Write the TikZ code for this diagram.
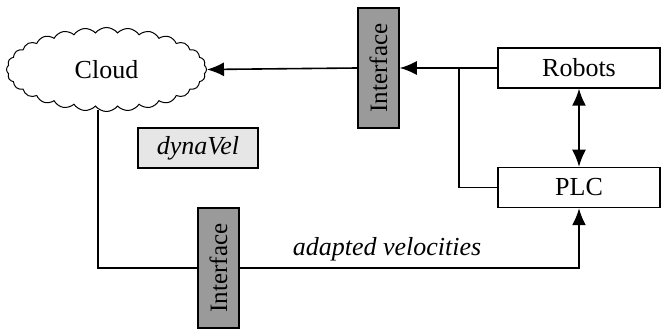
\documentclass[tikz,border=0pt]{standalone}
\usepackage{fontspec}
\setmainfont{LiberationSerif}[
  Extension=.ttf,
  UprightFont=*-Regular,
  ItalicFont=*-Italic,
  BoldFont=*-Bold]
\usetikzlibrary{shapes.symbols,arrows.meta}

\definecolor{ifgray}{HTML}{9A9A9A}
\definecolor{modgray}{HTML}{E6E6E6}

\tikzset{
  txt/.style={font=\fontsize{26}{30}\selectfont},
  itxt/.style={font=\fontsize{26}{30}\selectfont\itshape},
  block/.style={draw, line width=1.5pt, fill=white, txt, minimum width=162pt, minimum height=40pt, inner sep=0pt},
  iface/.style={draw, line width=1.5pt, fill=ifgray, minimum width=41pt, minimum height=120pt, inner sep=0pt},
  wire/.style={line width=1.6pt},
  tip/.style={-{Latex[length=17pt,width=14pt]}},
  tips/.style={{Latex[length=17pt,width=14pt]}-{Latex[length=17pt,width=14pt]}},
}

\begin{document}
\begin{tikzpicture}[x=1pt,y=-1pt]
  \useasboundingbox (0,0) rectangle (662,331);

  % components
  \node[cloud, draw, line width=1pt, cloud puffs=28, cloud puff arc=105, cloud ignores aspect,
        minimum width=200pt, minimum height=84pt, inner sep=0pt, txt] (cloud) at (106.5,69.5) {Cloud};
  \node[block] (rob) at (579,68) {Robots};
  \node[block] (plc) at (579,187.5) {PLC};
  \node[draw, line width=1.5pt, fill=modgray, minimum width=120pt, minimum height=40pt, inner sep=0pt,
        itxt] (dyn) at (198,148) {dynaVel};

  % interfaces
  \node[iface] (ifA) at (378.5,68) {};
  \node[rotate=90, font=\fontsize{25}{30}\selectfont] at (ifA.center) {Interface};
  \node[iface] (ifB) at (218.5,268) {};
  \node[rotate=90, font=\fontsize{25}{30}\selectfont] at (ifB.center) {Interface};

  % junction points
  \coordinate (j) at (459,68);
  \coordinate (c1) at (98,110);

  % upward data path: robots and PLC to the cloud
  \draw[wire, tip] (rob.west) -- (ifA.east);
  \draw[wire] (plc.west) -| (j);
  \draw[wire, tip] (ifA.west) -- (cloud.east);

  % robots <-> PLC
  \draw[wire, tips] (rob.south) -- (plc.north);

  % downward path: adapted velocities to the PLC
  \draw[wire] (c1) |- (ifB.west);
  \draw[wire, tip] (ifB.east) -| (plc.south);
  \node[itxt] (lbl) at (387,249) {adapted velocities};
\end{tikzpicture}
\end{document}
